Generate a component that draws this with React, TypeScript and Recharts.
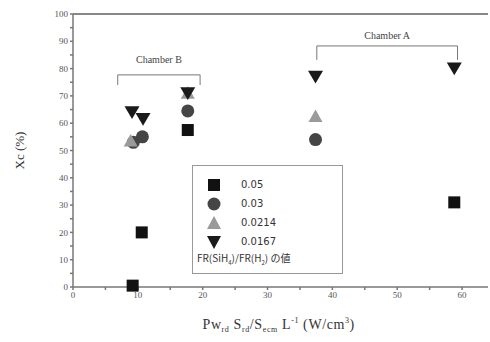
import { ScatterChart, Scatter, XAxis, YAxis, ZAxis, ReferenceLine, Label } from 'recharts';

const xTicks = [0, 5, 10, 15, 20, 25, 30, 35, 40, 45, 50, 55, 60];
const yTicks = [0, 5, 10, 15, 20, 25, 30, 35, 40, 45, 50, 55, 60, 65, 70, 75, 80, 85, 90, 95, 100];

const seriesNames = ['0.05', '0.03', '0.0214', '0.0167'];

const d005 = [
  { x: 9.2, y: 0.5 },
  { x: 10.6, y: 20 },
  { x: 17.7, y: 57.5 },
  { x: 58.8, y: 31 },
];
const d003 = [
  { x: 9.3, y: 53 },
  { x: 10.7, y: 55 },
  { x: 17.7, y: 64.5 },
  { x: 37.4, y: 54 },
];
const d0214 = [
  { x: 8.9, y: 53.5 },
  { x: 17.7, y: 71 },
  { x: 37.4, y: 62.5 },
];
const d0167 = [
  { x: 9.1, y: 64 },
  { x: 10.8, y: 61.5 },
  { x: 17.7, y: 71 },
  { x: 37.4, y: 77 },
  { x: 58.8, y: 80 },
];

const colors = ['#111111', '#454545', '#9a9a9a', '#1a1a1a'];

const DownTriangle = (props: any) => {
  const { cx, cy, fill } = props;
  const s = 7.5;
  return <path d={`M${cx - s},${cy - s * 0.8} L${cx + s},${cy - s * 0.8} L${cx},${cy + s * 0.9} Z`} fill={fill} />;
};

const Square = (props: any) => {
  const { cx, cy, fill } = props;
  const s = 6;
  return <rect x={cx - s} y={cy - s} width={s * 2} height={s * 2} fill={fill} />;
};

const Circle = (props: any) => {
  const { cx, cy, fill } = props;
  return <circle cx={cx} cy={cy} r={6.5} fill={fill} />;
};

const UpTriangle = (props: any) => {
  const { cx, cy, fill } = props;
  const s = 7;
  return <path d={`M${cx},${cy - s} L${cx + s},${cy + s * 0.8} L${cx - s},${cy + s * 0.8} Z`} fill={fill} />;
};

const LegendBox = () => {
  const icons = [
    <rect x={3} y={3} width={12} height={12} fill={colors[0]} />,
    <circle cx={9} cy={9} r={6.5} fill={colors[1]} />,
    <path d="M9,2 L16,15 L2,15 Z" fill={colors[2]} />,
    <path d="M2,3 L16,3 L9,16 Z" fill={colors[3]} />,
  ];
  return (
    <div
      style={{
        position: 'absolute',
        left: 192,
        top: 165,
        width: 151,
        height: 109,
        border: '1.5px solid #999',
        background: '#fff',
        fontFamily: 'DejaVu Sans, sans-serif',
        fontSize: 10,
        color: '#333',
        boxSizing: 'border-box',
        padding: '9px 0 0 0',
      }}
    >
      {seriesNames.map((n, i) => (
        <div key={n} style={{ display: 'flex', alignItems: 'center', height: 19 }}>
          <svg width={18} height={18} style={{ marginLeft: 12, marginRight: 18 }}>
            {icons[i]}
          </svg>
          <span>{n}</span>
        </div>
      ))}
      <div style={{ marginLeft: 4, marginTop: 0, fontFamily: '"Noto Sans CJK JP", sans-serif', fontSize: 10, lineHeight: '14px' }}>
        FR(SiH<sub style={{ fontSize: 6, lineHeight: 0 }}>4</sub>)/FR(H<sub style={{ fontSize: 6, lineHeight: 0 }}>2</sub>) の値
      </div>
    </div>
  );
};

const XLabel = (props: any) => {
  const { viewBox } = props;
  const x = viewBox.x + viewBox.width / 2 - 78;
  const y = viewBox.y + 42;
  return (
    <text x={x} y={y} fontFamily="Liberation Serif, serif" fontSize={14} fill="#333" letterSpacing={0.6}>
      Pw
      <tspan fontSize={8} dy={3}>rd</tspan>
      <tspan dy={-3}> S</tspan>
      <tspan fontSize={8} dy={3}>rd</tspan>
      <tspan dy={-3}>/S</tspan>
      <tspan fontSize={8} dy={3}>ecm</tspan>
      <tspan dy={-3}> L</tspan>
      <tspan fontSize={8} dy={-6}>-1</tspan>
      <tspan dy={6}> (W/cm</tspan>
      <tspan fontSize={8} dy={-6}>3</tspan>
      <tspan dy={6}>)</tspan>
    </text>
  );
};

const tickStyle = { fontFamily: 'Liberation Serif, serif', fontSize: 9, fill: '#555' };

export default function App() {
  return (
    <div style={{ position: 'absolute', left: 0, top: 0, width: 490, height: 342, background: '#fff' }}>
      <ScatterChart width={490} height={342} margin={{ top: 14, right: 2, left: 13, bottom: 25 }}>
        <XAxis
          type="number"
          dataKey="x"
          domain={[0, 64]}
          ticks={xTicks}
          interval={0}
          tickFormatter={(v: number) => (v % 10 === 0 ? String(v) : '')}
          tick={tickStyle}
          tickSize={3}
          stroke="#777"
          strokeWidth={1.5}
          height={30}
          allowDataOverflow
        >
          <Label content={<XLabel />} />
        </XAxis>
        <YAxis
          type="number"
          dataKey="y"
          domain={[0, 100]}
          ticks={yTicks}
          interval={0}
          tickFormatter={(v: number) => (v % 10 === 0 ? String(v) : '')}
          tick={tickStyle}
          tickSize={3}
          stroke="#777"
          strokeWidth={1.5}
          width={60}
        >
          <Label
            value="Xc (%)"
            angle={-90}
            position="insideLeft"
            offset={6}
            style={{ textAnchor: 'middle', fontFamily: 'Liberation Serif, serif', fontSize: 13, fill: '#333' }}
          />
        </YAxis>
        <ZAxis range={[150, 150]} />
        <ReferenceLine y={100} stroke="#888" strokeWidth={2} />
        <ReferenceLine segment={[{ x: 6.9, y: 77.7 }, { x: 19.6, y: 77.7 }]} stroke="#777">
          <Label value="Chamber B" position="top" offset={12} style={{ fontFamily: 'Liberation Serif, serif', fontSize: 10, fill: '#444' }} />
        </ReferenceLine>
        <ReferenceLine segment={[{ x: 6.9, y: 77.7 }, { x: 6.9, y: 74 }]} stroke="#777" />
        <ReferenceLine segment={[{ x: 19.6, y: 77.7 }, { x: 19.6, y: 74 }]} stroke="#777" />
        <ReferenceLine segment={[{ x: 37.6, y: 88.3 }, { x: 59.3, y: 88.3 }]} stroke="#777">
          <Label value="Chamber A" position="top" offset={7} style={{ fontFamily: 'Liberation Serif, serif', fontSize: 10, fill: '#444' }} />
        </ReferenceLine>
        <ReferenceLine segment={[{ x: 37.6, y: 88.3 }, { x: 37.6, y: 83.2 }]} stroke="#777" />
        <ReferenceLine segment={[{ x: 59.3, y: 88.3 }, { x: 59.3, y: 83.2 }]} stroke="#777" />
        <Scatter name={seriesNames[1]} data={d003} fill={colors[1]} shape={<Circle />} isAnimationActive={false} />
        <Scatter name={seriesNames[2]} data={d0214} fill={colors[2]} shape={<UpTriangle />} isAnimationActive={false} />
        <Scatter name={seriesNames[3]} data={d0167} fill={colors[3]} shape={<DownTriangle />} isAnimationActive={false} />
        <Scatter name={seriesNames[0]} data={d005} fill={colors[0]} shape={<Square />} isAnimationActive={false} />
      </ScatterChart>
      <LegendBox />
    </div>
  );
}
